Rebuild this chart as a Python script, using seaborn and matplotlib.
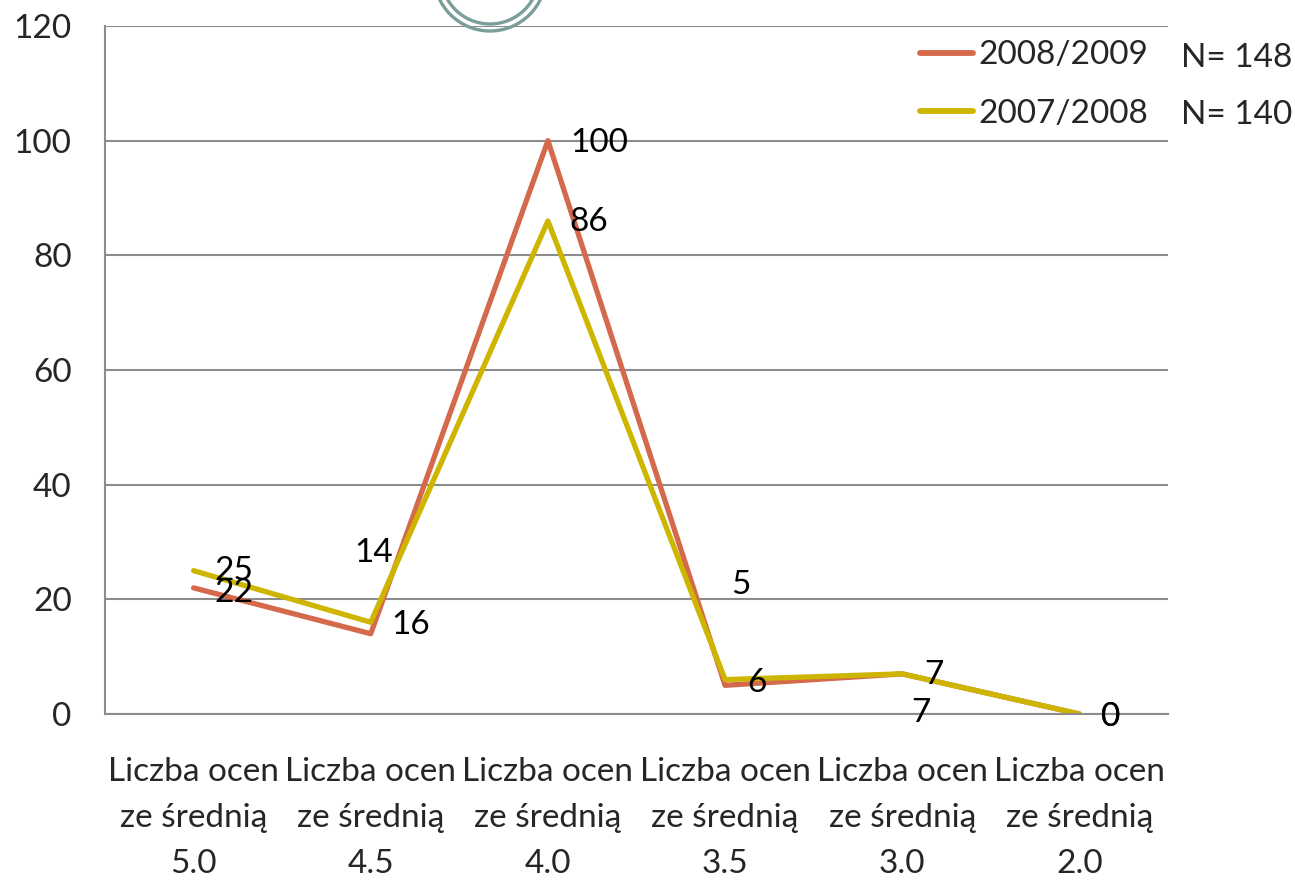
import matplotlib
matplotlib.use("Agg")
import matplotlib.pyplot as plt
from matplotlib.patches import Circle
import seaborn as sns
import pandas as pd

# Dane
kategorie = ["Liczba ocen\nze średnią\n5.0", "Liczba ocen\nze średnią\n4.5",
             "Liczba ocen\nze średnią\n4.0", "Liczba ocen\nze średnią\n3.5",
             "Liczba ocen\nze średnią\n3.0", "Liczba ocen\nze średnią\n2.0"]
rok_2008_2009 = [22, 14, 100, 5, 7, 0]
rok_2007_2008 = [25, 16, 86, 6, 7, 0]
sezony = ["2008/2009", "2007/2008"]
liczebnosc = ["N= 148", "N= 140"]
etykiety_2008 = ["22", "14", "100", "5", "7", "0"]
etykiety_2007 = ["25", "16", "86", "6", "7", "0"]

# przesunięcia etykiet (piksele) jak w oryginale z Excela
przes_2008 = [(40, -5), (3, 81), (51, -2), (16, 100), (19, -39), (31, -3)]
przes_2007 = [(40, 0), (40, -3), (41, -1), (32, -3), (32, -1), (31, -3)]

kolory = {"2008/2009": "#D4694B", "2007/2008": "#CDB500"}
FS = 24

df = pd.DataFrame({
    "kategoria": kategorie * 2,
    "wartosc": rok_2008_2009 + rok_2007_2008,
    "sezon": [sezony[0]] * 6 + [sezony[1]] * 6,
})

sns.set_style("white")
plt.rcParams["font.family"] = ["Lato", "DejaVu Sans"]

fig = plt.figure(figsize=(12.95, 8.80), dpi=100)
ax = fig.add_axes([105 / 1295, 1 - 714 / 880, (1168 - 105) / 1295, (714 - 26) / 880])

sns.lineplot(data=df, x="kategoria", y="wartosc", hue="sezon", hue_order=sezony,
             palette=kolory, linewidth=3.8, sort=False, ax=ax)

for i, kat in enumerate(kategorie):
    for wart, txt, (dx, dy) in ((rok_2008_2009[i], etykiety_2008[i], przes_2008[i]),
                                (rok_2007_2008[i], etykiety_2007[i], przes_2007[i])):
        ax.annotate(txt, (i, wart), xytext=(dx, dy), textcoords="offset pixels",
                    ha="center", va="center", fontsize=FS, color="black")

ax.set_xlim(-0.5, 5.5)
ax.set_ylim(0, 120)
ax.set_yticks(range(0, 121, 20))
ax.set_xticks(range(6))
ax.set_xticklabels(kategorie, fontsize=FS, linespacing=1.66)
ax.set_xticks([x - 0.5 for x in range(7)], minor=True)
ax.tick_params(axis="x", which="major", length=0, pad=31)
ax.tick_params(axis="x", which="minor", length=10, width=1.5, color="#8C8C8C", direction="out")
ax.tick_params(axis="y", length=10, width=1.5, color="#8C8C8C", labelsize=FS, pad=14)
ax.set_xlabel("")
ax.set_ylabel("")
ax.yaxis.grid(True, color="#8C8C8C", linewidth=1.5)
ax.set_axisbelow(True)
for s in ["top", "right"]:
    ax.spines[s].set_visible(False)
for s in ["left", "bottom"]:
    ax.spines[s].set_color("#8C8C8C")
    ax.spines[s].set_linewidth(1.5)

leg = ax.legend(loc="upper right", bbox_to_anchor=(1.0, 1.008), frameon=False,
                fontsize=FS, handlelength=1.6, handletextpad=0.15, labelspacing=0.85,
                borderaxespad=0.2)
for l in leg.get_lines():
    l.set_linewidth(4.2)
    l.set_solid_capstyle("round")

fig.text(1237 / 1295, 1 - 58 / 880, liczebnosc[0], fontsize=FS, ha="center", va="center")
fig.text(1237 / 1295, 1 - 115 / 880, liczebnosc[1], fontsize=FS, ha="center", va="center")

# pierścień u góry
for r in (0.56, 0.49):
    fig.patches.append(Circle((4.90, 9.05), r, transform=fig.dpi_scale_trans,
                              fill=False, edgecolor="#7A9E9A", linewidth=2.4))

fig.savefig("out.png", dpi=100)
